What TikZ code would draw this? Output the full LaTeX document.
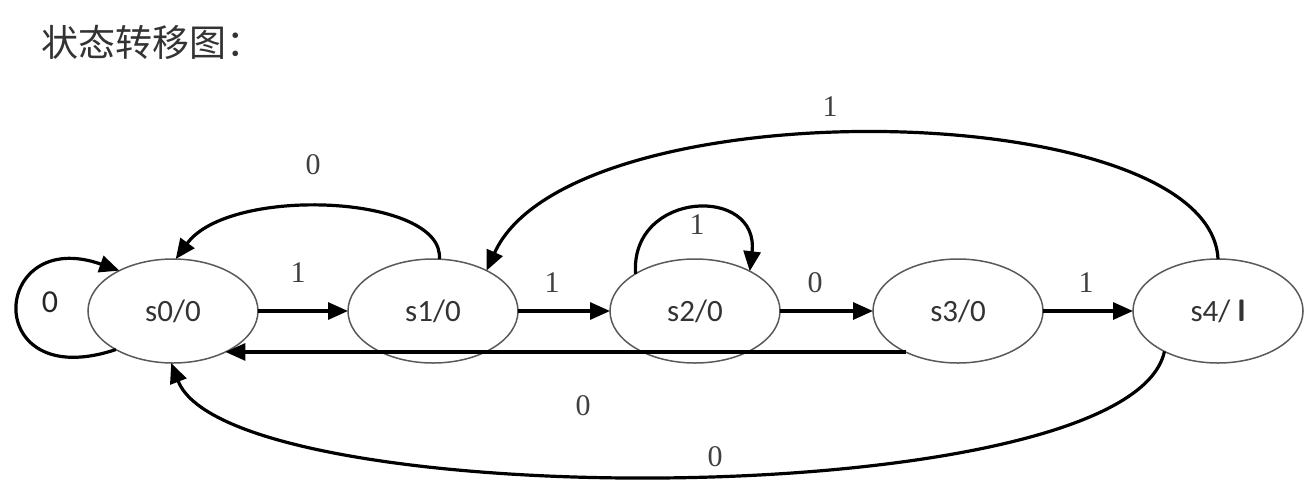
\documentclass[tikz,border=0pt]{standalone}
\usepackage{fontspec}
\setmainfont{Liberation Serif}
\newfontfamily\cjkfont{Noto Sans CJK SC}
\newfontfamily\nodefont{Carlito}
\usetikzlibrary{shapes.geometric,arrows.meta}
\begin{document}
\begin{tikzpicture}[x=1pt,y=-1pt,
  state/.style={draw=black!65,line width=1.5pt,ellipse,minimum width=170pt,minimum height=104pt,inner sep=0pt,outer sep=0pt,font=\nodefont\fontsize{31}{33}\selectfont,text=black!80},
  edge/.style={draw=black,line width=3.2pt,-{Triangle[length=20pt,width=17pt]}},
  lab/.style={font=\fontsize{30}{32}\selectfont,text=black!75,inner sep=0pt}]
\useasboundingbox (0,0) rectangle (1311,496);
\node[anchor=west,font=\cjkfont\fontsize{37}{39}\selectfont,text=black!80] (title) at (38,42) {状态转移图：};
\node[state] (s0) at (173,311) {s0/0};
\node[state] (s1) at (433,311) {s1/0};
\node[state] (s2) at (695,311) {s2/0};
\node[state] (s3) at (958,311) {s3/0};
\node[state] (s4) at (1218,311) {s4/ \textsf{\bfseries l}};
% straight arrows
\draw[edge] (s0.east) -- (s1.west);
\draw[edge] (s1.east) -- (s2.west);
\draw[edge] (s2.east) -- (s3.west);
\draw[edge] (s3.east) -- (s4.west);
\draw[edge] (s3.218) -- (s0.322);
% curves
\draw[edge] (s1.83) .. controls (445,195) and (230,185) .. (s0.87);
\draw[edge] (s4.north) .. controls (1210,95) and (570,85) .. (s1.37);
\draw[edge] (s4.217) .. controls (1130,515) and (230,515) .. (s0.268);
\draw[edge] (s0.214) .. controls (-20,395) and (-10,225) .. (s0.143);
\draw[edge] (s2.148) .. controls (630,190) and (760,185) .. (s2.36);
% labels
\node[lab] (l01) at (298,273) {1};
\node[lab] (l12) at (552,283) {1};
\node[lab] (l23) at (815,283) {0};
\node[lab] (l34) at (1086,283) {1};
\node[lab] (l10) at (313,165) {0};
\node[lab] (l41) at (830,107) {1};
\node[lab] (l22) at (697,225) {1};
\node[lab] (l30) at (583,406) {0};
\node[lab] (l40) at (715,457) {0};
\node[font=\nodefont\fontsize{32}{34}\selectfont,text=black!85,inner sep=0pt] (l00) at (50,302) {0};
\end{tikzpicture}
\end{document}
